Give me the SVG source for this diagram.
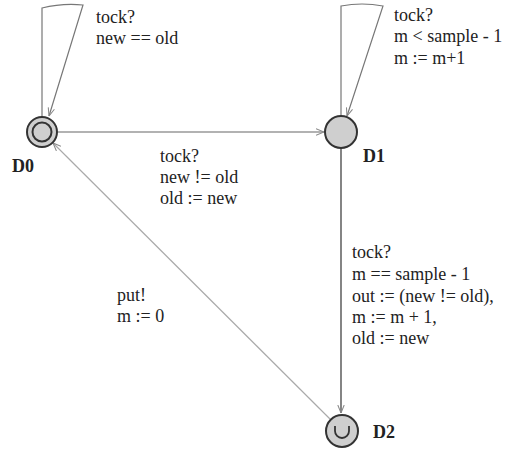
<svg xmlns="http://www.w3.org/2000/svg" width="505" height="451" viewBox="0 0 505 451">
<style>
text{font-size:18px;fill:#222}
.lbl{font-weight:bold}
.e{fill:none;stroke-width:1.2}
.loc{fill:#cfcfcf;stroke:#333;stroke-width:2}
</style>
<defs>
<marker id="ar" viewBox="0 0 10 10" refX="10" refY="5" markerWidth="8" markerHeight="8" orient="auto" markerUnits="userSpaceOnUse">
<path d="M0,1 L10,5 L0,9" fill="none" stroke="#888" stroke-width="1.3"/>
</marker>
</defs>
<rect width="505" height="451" fill="#fff"/>
<g id="connectors">
<path class="e" d="M42,117 L42,8 Q62,3 83,5 L49,116" stroke="#777" marker-end="url(#ar)"/>
<path class="e" d="M341,116 L341,6 Q362,2 383,6 L347,116" stroke="#777" marker-end="url(#ar)"/>
<path class="e" d="M58,132 L324,132" stroke="#666" marker-end="url(#ar)"/>
<path class="e" d="M341,148 L341,413" stroke="#333" marker-end="url(#ar)"/>
<path class="e" d="M330,419 L53,143" stroke="#aaa" marker-end="url(#ar)"/>
</g>
<g font-family="Liberation Serif, Times New Roman, DejaVu Serif, serif">
<g id="label-loop0">
<text x="96" y="23">tock?</text>
<text x="96" y="44">new == old</text>
</g>
<g id="label-loop1">
<text x="394" y="21">tock?</text>
<text x="394" y="42">m &lt; sample - 1</text>
<text x="394" y="64">m := m+1</text>
</g>
<g id="label-d0d1">
<text x="160" y="162">tock?</text>
<text x="160" y="183">new != old</text>
<text x="160" y="204">old := new</text>
</g>
<g id="label-d1d2">
<text x="352" y="258">tock?</text>
<text x="352" y="280">m == sample - 1</text>
<text x="352" y="302">out := (new != old),</text>
<text x="352" y="323">m := m + 1,</text>
<text x="352" y="344">old := new</text>
</g>
<g id="label-d2d0">
<text x="117" y="301">put!</text>
<text x="117" y="322">m := 0</text>
</g>
<g id="D0">
<circle class="loc" cx="42" cy="132" r="15"/>
<circle class="loc" cx="42" cy="132" r="9.5"/>
<text class="lbl" x="12" y="172">D0</text>
</g>
<g id="D1">
<circle class="loc" cx="341" cy="132" r="16"/>
<text class="lbl" x="363" y="162">D1</text>
</g>
<g id="D2">
<circle class="loc" cx="342" cy="431" r="16"/>
<path d="M335,426 V431 A7,7 0 0 0 349,431 V426" fill="none" stroke="#333" stroke-width="1.8"/>
<text class="lbl" x="373" y="438">D2</text>
</g>
</g>
</svg>
